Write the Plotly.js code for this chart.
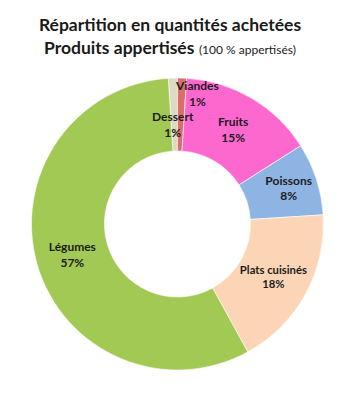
<!DOCTYPE html>
<html>
<head>
<meta charset="utf-8">
<script src="https://cdn.plot.ly/plotly-3.0.1.min.js"></script>
<style>html,body{margin:0;padding:0;background:#fff;}#chart{width:364px;height:400px;}</style>
</head>
<body>
<div id="chart"></div>
<script>
// Data
const categories = ['Dessert', 'Viandes', 'Fruits', 'Poissons', 'Plats cuisinés', 'Légumes'];
const shares = [1, 1, 15, 8, 18, 57];
const sliceColors = ['#ddd9c3', '#da6f69', '#fd68cf', '#8eb4e3', '#fbd5b5', '#a3c955'];
const smallSlices = ['Dessert', 'Viandes'];

const FONT = 'Lato, "Open Sans", sans-serif';
const TXT = '#1b1b1b';

const texts = categories.map((c, i) => smallSlices.includes(c) ? '' : c + '<br>' + shares[i] + '%');

const trace = {
  type: 'pie',
  labels: categories,
  values: shares,
  text: texts,
  textinfo: 'text',
  sort: false,
  direction: 'clockwise',
  rotation: -3.6,
  hole: 0.5,
  marker: {colors: sliceColors, line: {color: '#ffffff', width: 0.6}},
  textposition: 'inside',
  insidetextorientation: 'horizontal',
  insidetextfont: {family: FONT, size: 12, color: TXT, weight: 'bold'},
  domain: {x: [0.081, 0.894], y: [0.075, 0.805]},
  hoverinfo: 'label+percent'
};

// label annotations for the two thin slices
const annPos = {Dessert: [0.475, 0.69], Viandes: [0.541, 0.7675]};
const annotations = smallSlices.map(name => {
  const i = categories.indexOf(name);
  return {
    text: '<b>' + name + '<br>' + shares[i] + '%</b>',
    x: annPos[name][0], y: annPos[name][1], xref: 'paper', yref: 'paper',
    xanchor: 'center', yanchor: 'middle', showarrow: false,
    font: {family: FONT, size: 12, color: TXT}
  };
});

const layout = {
  width: 364, height: 400,
  margin: {l: 0, r: 0, t: 0, b: 0},
  paper_bgcolor: '#ffffff',
  showlegend: false,
  title: {
    text: '<b>Répartition en quantités achetées</b><br><b>Produits appertisés</b> <span style="font-size:12px">(100 % appertisés)</span>',
    x: 0.467, xanchor: 'center', xref: 'paper',
    y: 0.922, yanchor: 'top', yref: 'container',
    font: {family: FONT, size: 17.5, color: '#1a1a1a'}
  },
  annotations: annotations
};

Plotly.newPlot('chart', [trace], layout, {displayModeBar: false, staticPlot: true});
</script>
</body>
</html>
